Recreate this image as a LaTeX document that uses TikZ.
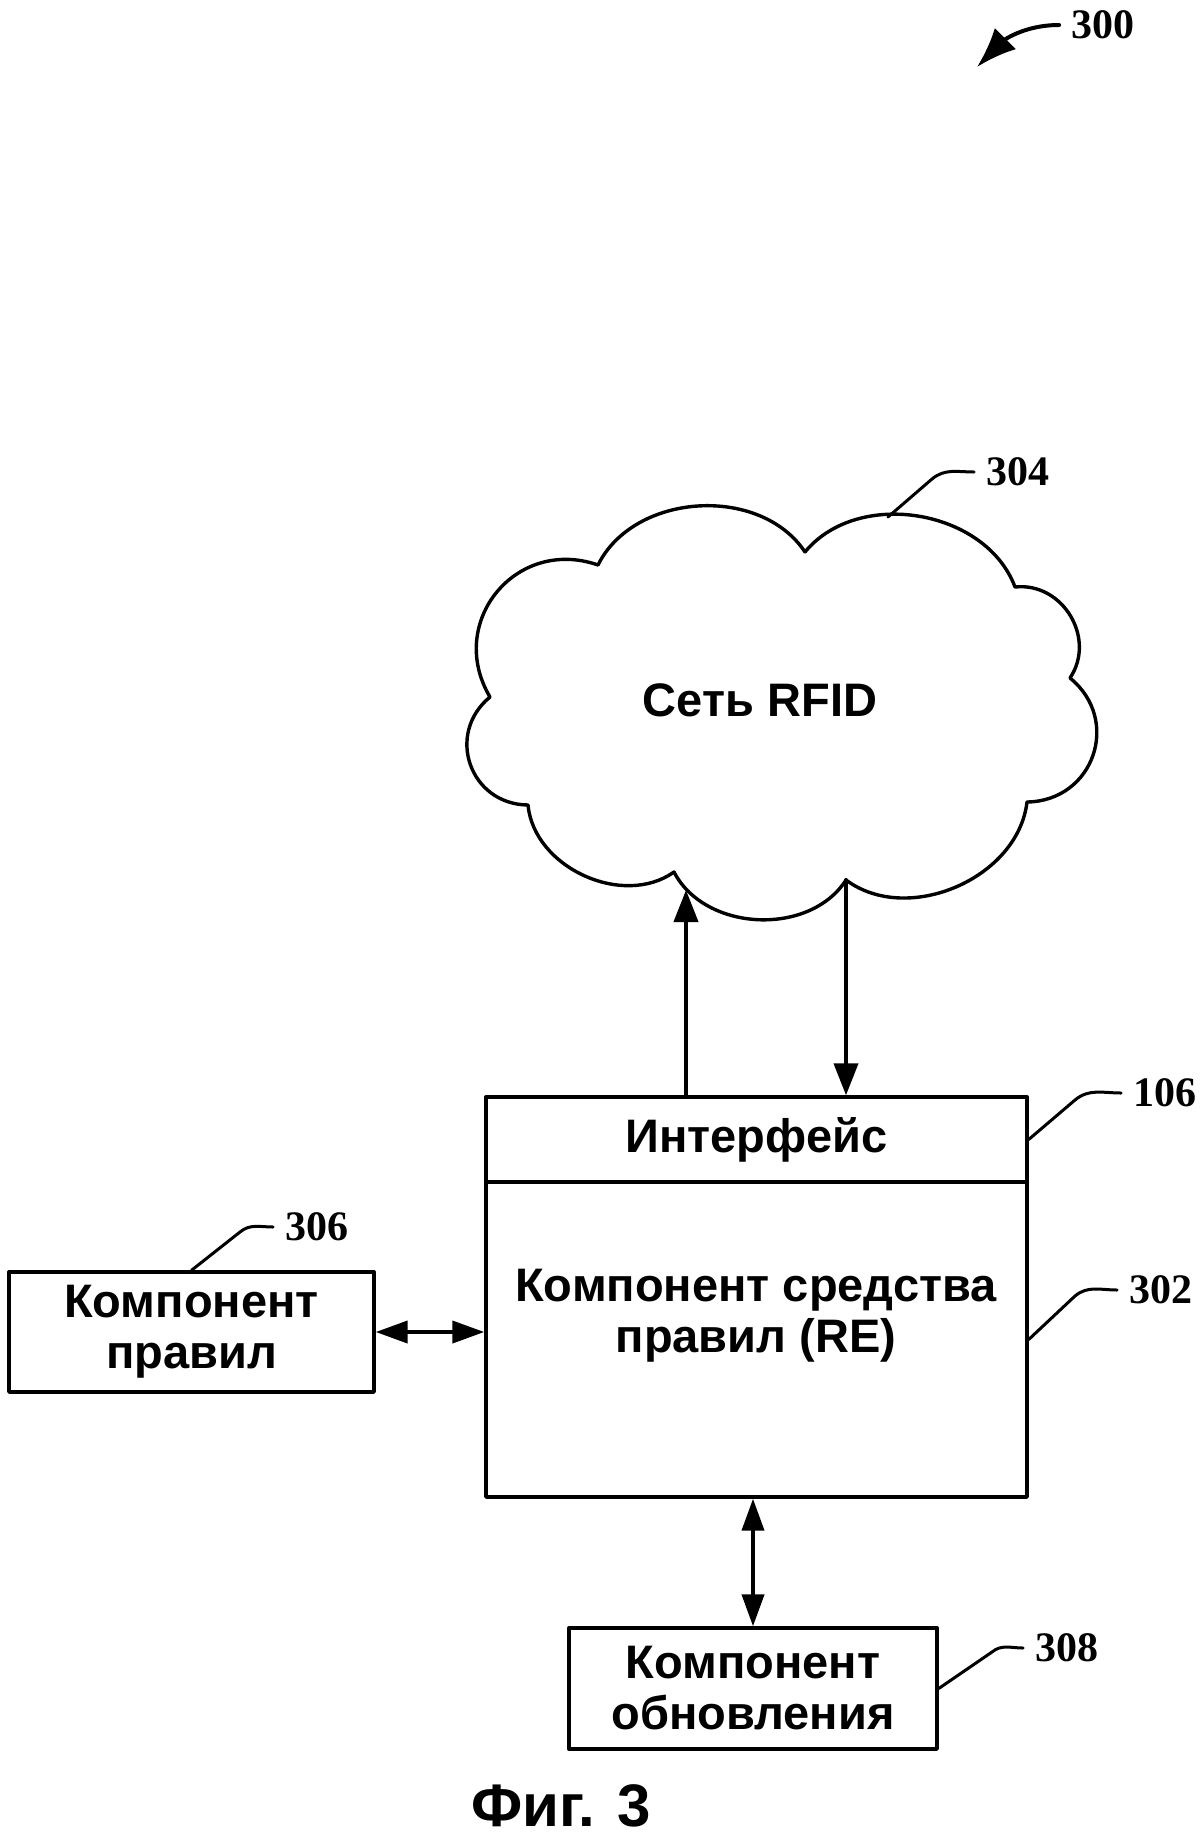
\documentclass[tikz,border=0pt]{standalone}
\usepackage{fontspec}
\setmainfont{Liberation Sans}
\newfontfamily\numfont{Liberation Serif}
\usetikzlibrary{arrows.meta}

\begin{document}
\begin{tikzpicture}
  [x=0.5pt,y=-0.5pt,line join=round,line cap=round,
   every node/.style={font=\fontsize{23.5}{25.5}\selectfont\bfseries,align=center}]
  \tikzstyle{block} = [draw,line width=1.7pt,inner sep=0pt]
  \tikzstyle{refnum} = [font=\fontsize{21}{21}\selectfont\numfont\bfseries,inner sep=6pt]
  \tikzstyle{leader} = [line width=1.5pt]
  \tikzstyle{arrow} = [line width=2pt,-{Triangle[length=16pt,width=12pt]}]
  \tikzstyle{twoway} = [line width=2pt,{Triangle[length=16pt,width=11pt]}-{Triangle[length=16pt,width=11pt]}]
  \useasboundingbox (0,0) rectangle (1200,1836);
  % blocks
  \node[block,minimum width=270.5pt,minimum height=42.5pt] (iface) at (756.5,1139.5) {Интерфейс};
  \node[block,minimum width=270.5pt,minimum height=157.5pt] (re) at (756.5,1339.5) {};
  \node (retext) at (756,1316) {Компонент средства\\правил (RE)};
  \node[block,minimum width=182.5pt,minimum height=60pt] (rules) at (191.5,1332) {Компонент\\правил};
  \node[block,minimum width=184pt,minimum height=60.5pt] (update) at (753,1688.5) {Компонент\\обновления};
  \node (net) at (760,700) {Сеть RFID};
  \node[font=\fontsize{30}{30}\selectfont\bfseries] (fig) at (561,1806) {Фиг. 3};
  % cloud
  \foreach \name/\x/\y in {c1/805/552,c2/1015/587,c3/1070/678,c4/1027/802,c5/846/880,
                           c6/674/872,c7/528/805,c8/490/697,c9/598/565,netin/686/890,
                           p304/888/517,p300/977/67}
   \coordinate (\name) at (\x,\y);
  \draw[line width=1.7pt] (c1) to[bend left=60] (c2) to[bend left=65,looseness=1.15] (c3)
    to[bend left=70,looseness=1.3] (c4) to[bend left=60] (c5) to[bend left=60] (c6)
    to[bend left=60] (c7) to[bend left=70,looseness=1.3] (c8)
    to[bend left=70,looseness=1.3] (c9) to[bend left=60] (c1);
  % reference numbers
  \node[refnum] (l300) at (1103,25) {300};
  \node[refnum] (l304) at (1018,472) {304};
  \node[refnum] (l106) at (1165,1093) {106};
  \node[refnum] (l302) at (1161,1290) {302};
  \node[refnum] (l306) at (317,1227) {306};
  \node[refnum] (l308) at (1067,1648) {308};
  \foreach \source/\mid/\dest in {iface.east/{1075,1100}/l106,re.east/{1075,1296}/l302,
                                  rules.north/{240,1232}/l306,update.east/{992,1652}/l308,
                                  p304/{932,479}/l304}
   \draw[leader] (\source) -- (\mid) to[out=40,in=180] (\dest.west);
  \draw[line width=2pt,-{Latex[length=20pt,width=15pt]}] (l300.west) to[out=180,in=45] (p300);
  % connectors
  \draw[arrow] (iface.north -| netin) -- (netin);
  \draw[arrow] (c5) -- (c5 |- iface.north);
  \draw[twoway] (rules.east) -- (rules.east -| re.west);
  \draw[twoway] (update.north) -- (update.north |- re.south);
\end{tikzpicture}
\end{document}
